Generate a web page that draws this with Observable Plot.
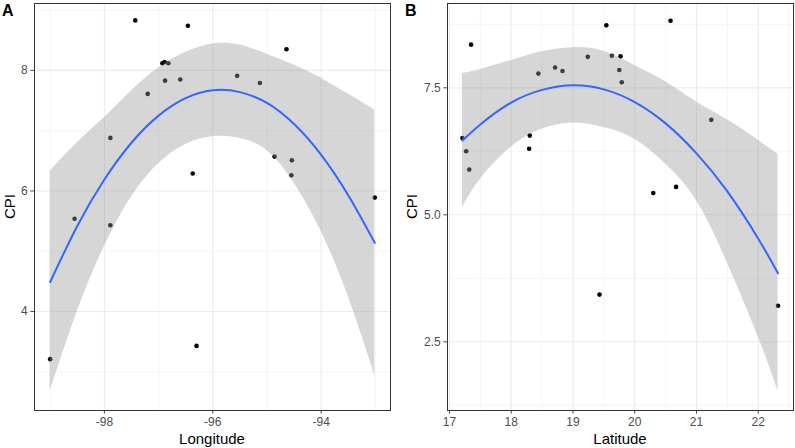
<!DOCTYPE html>
<html><head><meta charset="utf-8">
<script src="https://cdn.jsdelivr.net/npm/d3@7"></script>
<script src="https://cdn.jsdelivr.net/npm/@observablehq/plot@0.6"></script>
<style>
body{margin:0;background:#fff;}
#wrap{position:relative;width:795px;height:448px;font-family:"Liberation Sans",Arial,sans-serif;overflow:hidden;}
#wrap > svg{position:absolute;top:0;}
</style></head><body><div id="wrap"></div>
<script>
// ---- Panel A: Longitude vs CPI ----
const lonA = [-97.43, -96.46, -96.93, -96.89, -96.82, -96.88, -96.60, -97.20, -97.89, -96.37, -94.64, -95.55, -95.13, -94.86, -94.54, -94.55, -93.01, -98.55, -97.89, -99.00, -96.30];
const cpiA = [8.83, 8.74, 8.12, 8.14, 8.12, 7.83, 7.85, 7.61, 6.88, 6.29, 8.35, 7.91, 7.79, 6.57, 6.51, 6.26, 5.89, 5.54, 5.43, 3.21, 3.43];
// fitted curve and confidence band
const fitLonA = [-99.0, -98.5, -98.0, -97.5, -97.0, -96.5, -96.0, -95.5, -95.0, -94.5, -94.0, -93.5, -93.01];
const fitA    = [4.49, 5.42, 6.19, 6.80, 7.25, 7.54, 7.67, 7.64, 7.46, 7.11, 6.60, 5.93, 5.14];
const upperA  = [6.33, 6.80, 7.22, 7.66, 8.04, 8.30, 8.44, 8.42, 8.27, 8.09, 7.87, 7.61, 7.34];
const lowerA  = [2.68, 4.00, 5.08, 5.90, 6.45, 6.77, 6.90, 6.87, 6.67, 6.13, 5.33, 4.25, 2.94];
const xTicksA = [-98, -96, -94];
const xMinorA = [-99, -97, -95, -93];
const yTicksA = [4, 6, 8];
const yMinorA = [3, 5, 7, 9];

// ---- Panel B: Latitude vs CPI ----
const latB = [17.35, 17.21, 17.27, 17.32, 18.30, 18.29, 18.44, 18.71, 18.83, 19.24, 19.54, 19.63, 19.77, 19.75, 19.79, 20.58, 21.24, 20.30, 20.67, 19.43, 22.32];
const cpiB = [8.35, 6.51, 6.25, 5.89, 6.56, 6.30, 7.78, 7.90, 7.83, 8.11, 8.73, 8.13, 8.12, 7.85, 7.61, 8.82, 6.87, 5.43, 5.55, 3.43, 3.21];
const fitLatB = [17.21, 17.5, 18.0, 18.5, 19.0, 19.5, 20.0, 20.5, 21.0, 21.5, 22.0, 22.32];
const fitB    = [6.46, 6.78, 7.21, 7.46, 7.55, 7.47, 7.22, 6.80, 6.21, 5.46, 4.53, 3.85];
const upperB  = [7.78, 7.86, 8.04, 8.21, 8.29, 8.22, 7.94, 7.62, 7.22, 6.87, 6.47, 6.19];
const lowerB  = [5.14, 5.70, 6.33, 6.69, 6.81, 6.72, 6.49, 6.00, 5.28, 4.05, 2.60, 1.54];
const xTicksB = [17, 18, 19, 20, 21, 22];
const xMinorB = [17.5, 18.5, 19.5, 20.5, 21.5, 22.5];
const yTicksB = [2.5, 5.0, 7.5];
const yMinorB = [1.25, 3.75, 6.25, 8.75];

function panel(o) {
  const pts = o.xs.map((x, i) => ({x, y: o.ys[i]}));
  const fit = o.fx.map((x, i) => ({x, f: o.fy[i], lo: o.lo[i], hi: o.hi[i]}));
  const svg = Plot.plot({
    width: o.width, height: 448,
    marginLeft: o.ml, marginRight: o.mr, marginTop: 3, marginBottom: 38,
    style: {background: "transparent", fontFamily: "Liberation Sans, Arial, sans-serif", fontSize: "12px", color: "#4D4D4D", overflow: "visible"},
    x: {domain: o.xd, ticks: o.xt, tickFormat: o.xf, tickSize: 3.7, tickPadding: 3, label: null},
    y: {domain: o.yd, ticks: o.yt, tickFormat: o.yf, tickSize: 3.7, tickPadding: 3, label: null},
    marks: [
      Plot.ruleX(o.xm, {stroke: "#F3F3F3", strokeWidth: 0.8}),
      Plot.ruleY(o.ym, {stroke: "#F3F3F3", strokeWidth: 0.8}),
      Plot.ruleX(o.xt, {stroke: "#EBEBEB", strokeWidth: 1.1}),
      Plot.ruleY(o.yt, {stroke: "#EBEBEB", strokeWidth: 1.1}),
      Plot.dot(pts, {x: "x", y: "y", r: 2.3, fill: "black", stroke: "none"}),
      Plot.areaY(fit, {x: "x", y1: "lo", y2: "hi", fill: "#999999", fillOpacity: 0.4, curve: "natural"}),
      Plot.line(fit, {x: "x", y: "f", stroke: "#3366FF", strokeWidth: 2, curve: "natural"}),
      Plot.frame({stroke: "#333333", strokeWidth: 1})
    ]
  });
  svg.style.left = o.left + "px";
  return svg;
}

const wrap = document.getElementById("wrap");
wrap.appendChild(panel({
  width: 395, left: 0, ml: 34, mr: 5,
  xd: [-99.29, -92.72], yd: [2.358, 9.11],
  xt: xTicksA, xm: xMinorA, yt: yTicksA, ym: yMinorA,
  xf: d => String(d), yf: d => String(d),
  xs: lonA, ys: cpiA, fx: fitLonA, fy: fitA, lo: lowerA, hi: upperA
}));
wrap.appendChild(panel({
  width: 400, left: 395, ml: 52, mr: 2,
  xd: [16.968, 22.571], yd: [1.148, 9.16],
  xt: xTicksB, xm: xMinorB, yt: yTicksB, ym: yMinorB,
  xf: d => String(d), yf: d => d.toFixed(1),
  xs: latB, ys: cpiB, fx: fitLatB, fy: fitB, lo: lowerB, hi: upperB
}));

// titles and axis labels
const ns = "http://www.w3.org/2000/svg";
const ov = document.createElementNS(ns, "svg");
ov.setAttribute("width", 795); ov.setAttribute("height", 448);
ov.style.left = "0px"; ov.style.pointerEvents = "none";
ov.style.fontFamily = "Liberation Sans, Arial, sans-serif";
function txt(s, x, y, size, weight, anchor, rot) {
  const t = document.createElementNS(ns, "text");
  t.textContent = s;
  t.setAttribute("font-size", size);
  t.setAttribute("font-weight", weight);
  t.setAttribute("text-anchor", anchor);
  t.setAttribute("fill", "#000");
  t.setAttribute("transform", `translate(${x},${y})` + (rot ? ` rotate(${rot})` : ""));
  ov.appendChild(t);
}
txt("A", 2, 15.5, 16, "bold", "start");
txt("B", 405, 15.5, 16, "bold", "start");
txt("Longitude", 212, 443.5, 15, "normal", "middle");
txt("Latitude", 620, 443.5, 15, "normal", "middle");
txt("CPI", 15, 206.5, 15, "normal", "middle", -90);
txt("CPI", 417, 206.5, 15, "normal", "middle", -90);
wrap.appendChild(ov);
</script>
</body></html>
